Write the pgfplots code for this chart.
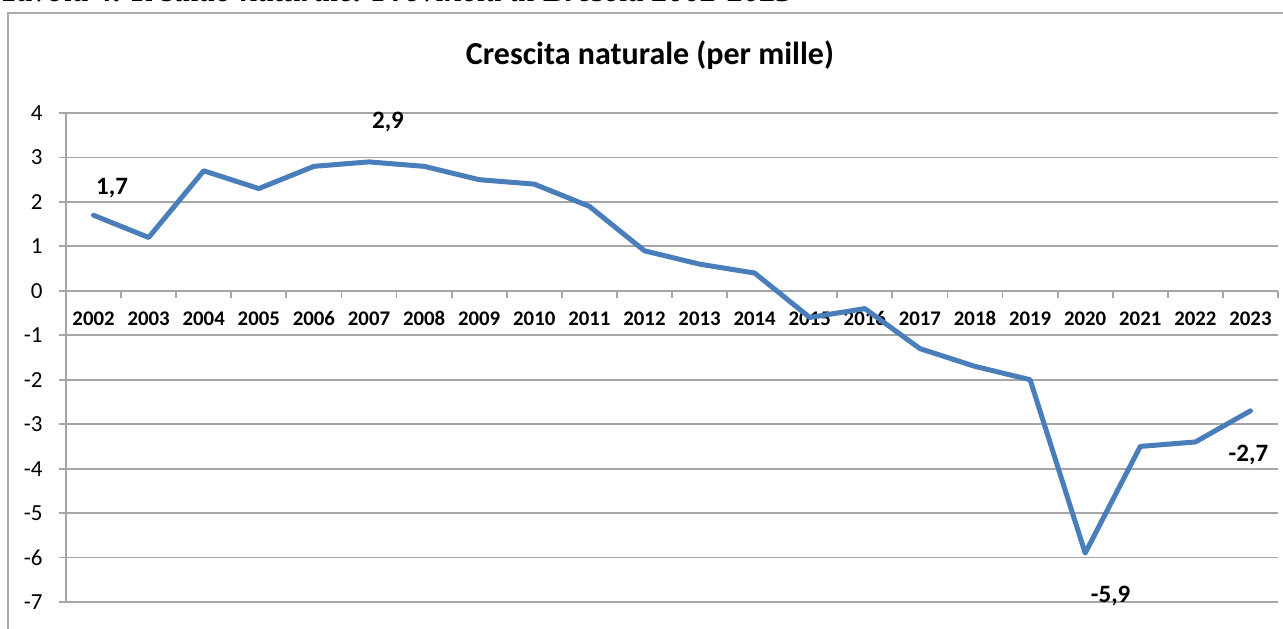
\documentclass[border=0pt]{standalone}
\usepackage{pgfplots}
\pgfplotsset{compat=1.18}
\usepackage{fontspec}
\setmainfont{Carlito}
\newfontfamily\timesfont{Liberation Serif}
\definecolor{xlblue}{RGB}{74,126,187}
\definecolor{gridgray}{RGB}{166,166,166}
\definecolor{framegray}{RGB}{170,170,170}
\begin{document}
\begin{tikzpicture}
\useasboundingbox (0pt,0pt) rectangle (641.5pt,314pt);
\clip (0pt,0pt) rectangle (641.5pt,314pt);
\node[anchor=base west, inner sep=0, font=\timesfont\bfseries\itshape\fontsize{16.2}{18}\selectfont] at (0pt,313pt) {Tavola 4. Il saldo naturale. Provincia di Brescia 2002-2023};
\draw[framegray, line width=0.8pt] (4pt,-10pt) rectangle (700pt,307.5pt);
\node[font=\bfseries\fontsize{16}{19}\selectfont] at (325pt,286.5pt) {Crescita naturale (per mille)};
\begin{axis}[
  at={(33pt,13pt)}, anchor=south west,
  scale only axis, width=606pt, height=244.5pt,
  xmin=-0.5, xmax=21.5, ymin=-7, ymax=4,
  axis x line=middle, axis y line=left,
  axis line style={gridgray, line width=0.9pt, -},
  ymajorgrids, grid style={gridgray, line width=0.9pt},
  ytick={-7,...,4},
  xtick={-0.5,0.5,...,21.5},
  xticklabels={2002,2003,2004,2005,2006,2007,2008,2009,2010,2011,2012,2013,2014,2015,2016,2017,2018,2019,2020,2021,2022,2023,{}},
  hide obscured x ticks=false, hide obscured y ticks=false,
  xtick align=outside, ytick align=outside,
  major tick length=3.5pt,
  tick style={gridgray, line width=0.9pt},
  /pgf/number format/assume math mode=true,
  yticklabel style={font=\fontsize{11.5}{13}\selectfont, xshift=-4.7pt},
  xticklabel style={font=\bfseries\fontsize{10.4}{12}\selectfont, xshift=13.77pt, yshift=-3pt, text height=7.2pt, text depth=0pt},
  clip=false,
]
\addplot[xlblue, line width=2.5pt, line join=round, line cap=round] table {
x y
0 1.7
1 1.2
2 2.7
3 2.3
4 2.8
5 2.9
6 2.8
7 2.5
8 2.4
9 1.9
10 0.9
11 0.6
12 0.4
13 -0.6
14 -0.4
15 -1.3
16 -1.7
17 -2.0
18 -5.9
19 -3.5
20 -3.4
21 -2.7
};
\addplot[draw=none, mark=none, nodes near coords, point meta=explicit symbolic,
  visualization depends on={value \thisrow{dx}\as\dx},
  visualization depends on={value \thisrow{dy}\as\dy},
  every node near coord/.append style={font=\bfseries\fontsize{12.5}{15}\selectfont, anchor=center, xshift=\dx pt, yshift=\dy pt}]
  table[x=x, y=y, meta=lab] {
x y lab dx dy
0 1.7 1,7 9.25 13.5
5 2.9 2,9 9.5 20
18 -5.9 -5,9 12.75 -21.5
21 -2.7 -2,7 -1 -22
};
\end{axis}
\end{tikzpicture}
\end{document}
